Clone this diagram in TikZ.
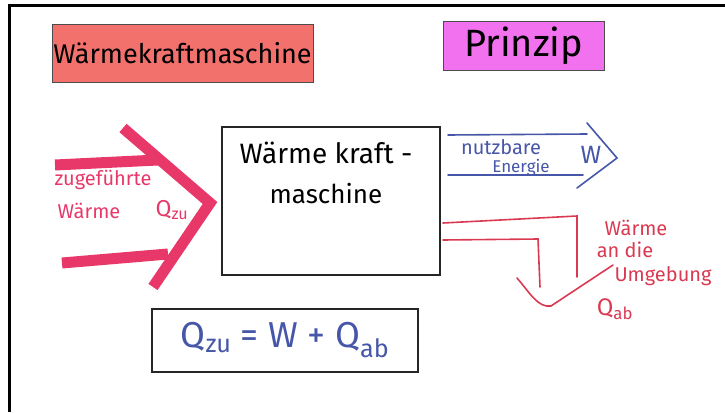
\documentclass[tikz,border=0pt]{standalone}
\usepackage{fontspec}
\setmainfont{Fira Sans}
\usetikzlibrary{positioning, calc}
\definecolor{tRed}{HTML}{F3716D}
\definecolor{tPink}{HTML}{F271EF}
\definecolor{mRose}{HTML}{E8386A}
\definecolor{mRed}{HTML}{D93A52}
\definecolor{mBlue}{HTML}{4656A8}

\begin{document}
\begin{tikzpicture}[x=1pt, y=-1pt,
    fs/.style={font=\fontsize{#1}{#1}\selectfont},
    titlebox/.style={draw=black!70, line width=1pt, inner sep=0pt},
    rose/.style={mRose, line width=11pt, line join=miter},
    thinblue/.style={mBlue, line width=1.6pt, line cap=round},
    thinred/.style={mRed, line width=1.6pt, line cap=round}]
    \useasboundingbox (0,0) rectangle (725,412);
    % board edge
    \draw[line width=3pt] (9,412) -- (9,6) -- (725,6);

    % titles
    \node[titlebox, fill=tRed, minimum width=261, minimum height=57,
          fs=27] (ttl) at (182.5,53.5) {Wärmekraftmaschine};
    \node[titlebox, fill=tPink, minimum width=161, minimum height=48,
          fs=38] (prz) at (523.5,46) {Prinzip};

    % machine
    \node[draw=black!85, line width=2.5pt, minimum width=218,
          minimum height=148] (wkm) at (331,201) {};
    \node[fs=28] (wkm1) at (326,153) {Wärme kraft -};
    \node[fs=26] (wkm2) at (326,194) {maschine};

    % heat in
    \coordinate (tip) at (210,203);
    \draw[rose] (55,165) -- (158,160);
    \draw[rose] (62,263) -- (168,254);
    \draw[rose] (123,128) -- (tip) -- (153,287);
    \node[mRose, fs=20] (zu1) at (103,180) {zugeführte};
    \node[mRose, fs=20] (zu2) at (89,211) {Wärme};
    \node[mRose, fs=23] (zu3) at (172,210) {Q\textsubscript{zu}};

    % work out
    \coordinate (wtip) at (617,158);
    \draw[thinblue] (448,135) -- (587,134);
    \draw[thinblue] (448,175) -- (583,175);
    \draw[thinblue] (587,123) -- (wtip) -- (577,188);
    \node[mBlue, fs=20, inner sep=1pt] (nb1) at (501,147) {nutzbare};
    \node[mBlue, fs=17, inner sep=1pt] (nb2) at (521,168) {Energie};
    \node[mBlue, fs=25] (nbw) at (591,155) {W};

    % heat out
    \coordinate (qtip) at (551,306);
    \draw[thinred] (443,223) -- (577,216) -- (577,277);
    \draw[thinred] (443,240) -- (538,239) -- (540,287);
    \draw[thinred] (517,278) .. controls (530,293) and (538,308) .. (qtip)
      -- (613,265);
    \node[mRed, fs=20] (ab1) at (636,228) {Wärme};
    \node[mRed, fs=20] (ab2) at (625,250) {an die};
    \node[mRed, fs=20] (ab3) at (663,276) {Umgebung};
    \node[mRed, fs=24] (ab4) at (615,309) {Q\textsubscript{ab}};

    % balance
    \node[draw=black!85, line width=2pt, minimum width=266,
          minimum height=63, text=mBlue, fs=36] (eq) at (285,340)
      {Q\textsubscript{zu} = W + Q\textsubscript{ab}};
\end{tikzpicture}
\end{document}
